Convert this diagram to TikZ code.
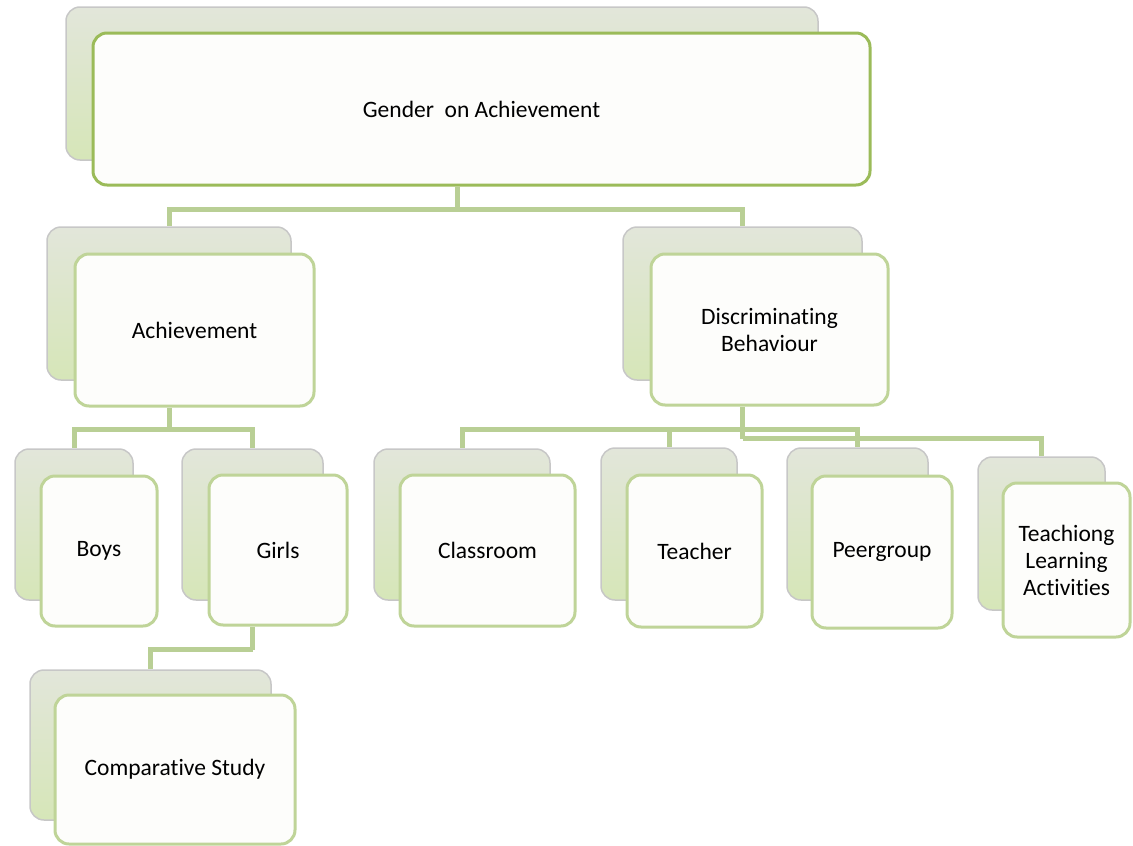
\documentclass[tikz,border=0pt]{standalone}
\usepackage{fontspec}
\setmainfont{Carlito}[Ligatures=NoCommon,Contextuals=NoAlternate]
\usetikzlibrary{backgrounds}
\definecolor{topgreen}{HTML}{9BBB59}
\definecolor{lightgreen}{HTML}{BFD498}
\definecolor{conncol}{HTML}{B9CF95}
\definecolor{backtop}{HTML}{E2E6DA}
\definecolor{backbot}{HTML}{D6E6B8}
\definecolor{frontfill}{HTML}{FDFDFB}
\newcommand\nolig{\kern0pt{}}
\tikzset{
  backbox/.style={rectangle, rounded corners=14pt, draw=black!22, line width=1.5pt,
    top color=backtop, bottom color=backbot, inner sep=0pt},
  frontbox/.style={rectangle, rounded corners=14pt, draw=lightgreen, line width=3pt,
    fill=frontfill, inner sep=0pt, align=center, font=\fontsize{23.5}{27}\selectfont},
  topfront/.style={frontbox, draw=topgreen},
  conn/.style={draw=conncol, line width=5pt}
}
\begin{document}
\begin{tikzpicture}[x=1pt,y=-1pt]
\useasboundingbox (0,0) rectangle (1133,846);
% top
\node[backbox, minimum width=752pt, minimum height=153pt] (topB) at (442,83.5) {};
\node[topfront, minimum width=777pt, minimum height=152pt] (top) at (481.5,109) {Gender\ \ on Achievement};
% level 2
\node[backbox, minimum width=244pt, minimum height=153pt] (achB) at (169,303.5) {};
\node[frontbox, minimum width=239pt, minimum height=152pt] (ach) at (194.5,330) {Achievement};
\node[backbox, minimum width=239pt, minimum height=153pt] (discB) at (742.5,303.5) {};
\node[frontbox, minimum width=237pt, minimum height=151pt] (disc) at (769.5,329.5) {Discriminat\nolig ing\\Behaviour};
% level 3
\node[backbox, minimum width=118pt, minimum height=151pt] (boysB) at (74,524.5) {};
\node[frontbox, minimum width=116pt, minimum height=150pt] (boys) at (99,551) {Boys};
\node[backbox, minimum width=141pt, minimum height=151pt] (girlsB) at (252.5,524.5) {};
\node[frontbox, minimum width=138pt, minimum height=150pt] (girls) at (278,550) {Girls};
\node[backbox, minimum width=176pt, minimum height=151pt] (classB) at (462,524.5) {};
\node[frontbox, minimum width=175pt, minimum height=151pt] (class) at (487.5,550.5) {Classroom};
\node[backbox, minimum width=136pt, minimum height=152pt] (teacherB) at (669,524) {};
\node[frontbox, minimum width=135pt, minimum height=152pt] (teacher) at (694.5,551) {Teacher};
\node[backbox, minimum width=141pt, minimum height=152pt] (peerB) at (857.5,524) {};
\node[frontbox, minimum width=140pt, minimum height=152pt] (peer) at (882,552) {Peergroup};
\node[backbox, minimum width=127pt, minimum height=153pt] (tlaB) at (1041.5,533.5) {};
\node[frontbox, minimum width=127pt, minimum height=154pt] (tla) at (1066.5,560) {Teachiong\\Learning\\Activ\nolig it\nolig ies};
% level 4
\node[backbox, minimum width=241pt, minimum height=150pt] (compB) at (150.5,745) {};
\node[frontbox, minimum width=240pt, minimum height=149pt] (comp) at (175,769.5) {Comparat\nolig ive Study};
% connectors
\begin{scope}[on background layer]
\draw[conn] ([xshift=-24.5pt]top.south) -- ++(0,23) coordinate (j1);
\draw[conn] (j1) -| (achB.north);
\draw[conn] (j1) -| (discB.north);
\draw[conn] (achB.center |- ach.south) -- ++(0,22) coordinate (j2);
\draw[conn] (j2) -| (boysB.north);
\draw[conn] (j2) -| (girlsB.north);
\draw[conn] (discB.center |- disc.south) -- ++(0,23) coordinate (j3);
\draw[conn] (j3) -| (classB.north);
\draw[conn] (j3) -| (teacherB.north);
\draw[conn] (j3) -| (peerB.north);
\draw[conn] (j3) -- ++(0,9) coordinate (j4);
\draw[conn] (j4) -| (tlaB.north);
\draw[conn] (girlsB.center |- girls.south) -- ++(0,23) coordinate (j5);
\draw[conn] (j5) -| (compB.north);
\end{scope}
\end{tikzpicture}
\end{document}
